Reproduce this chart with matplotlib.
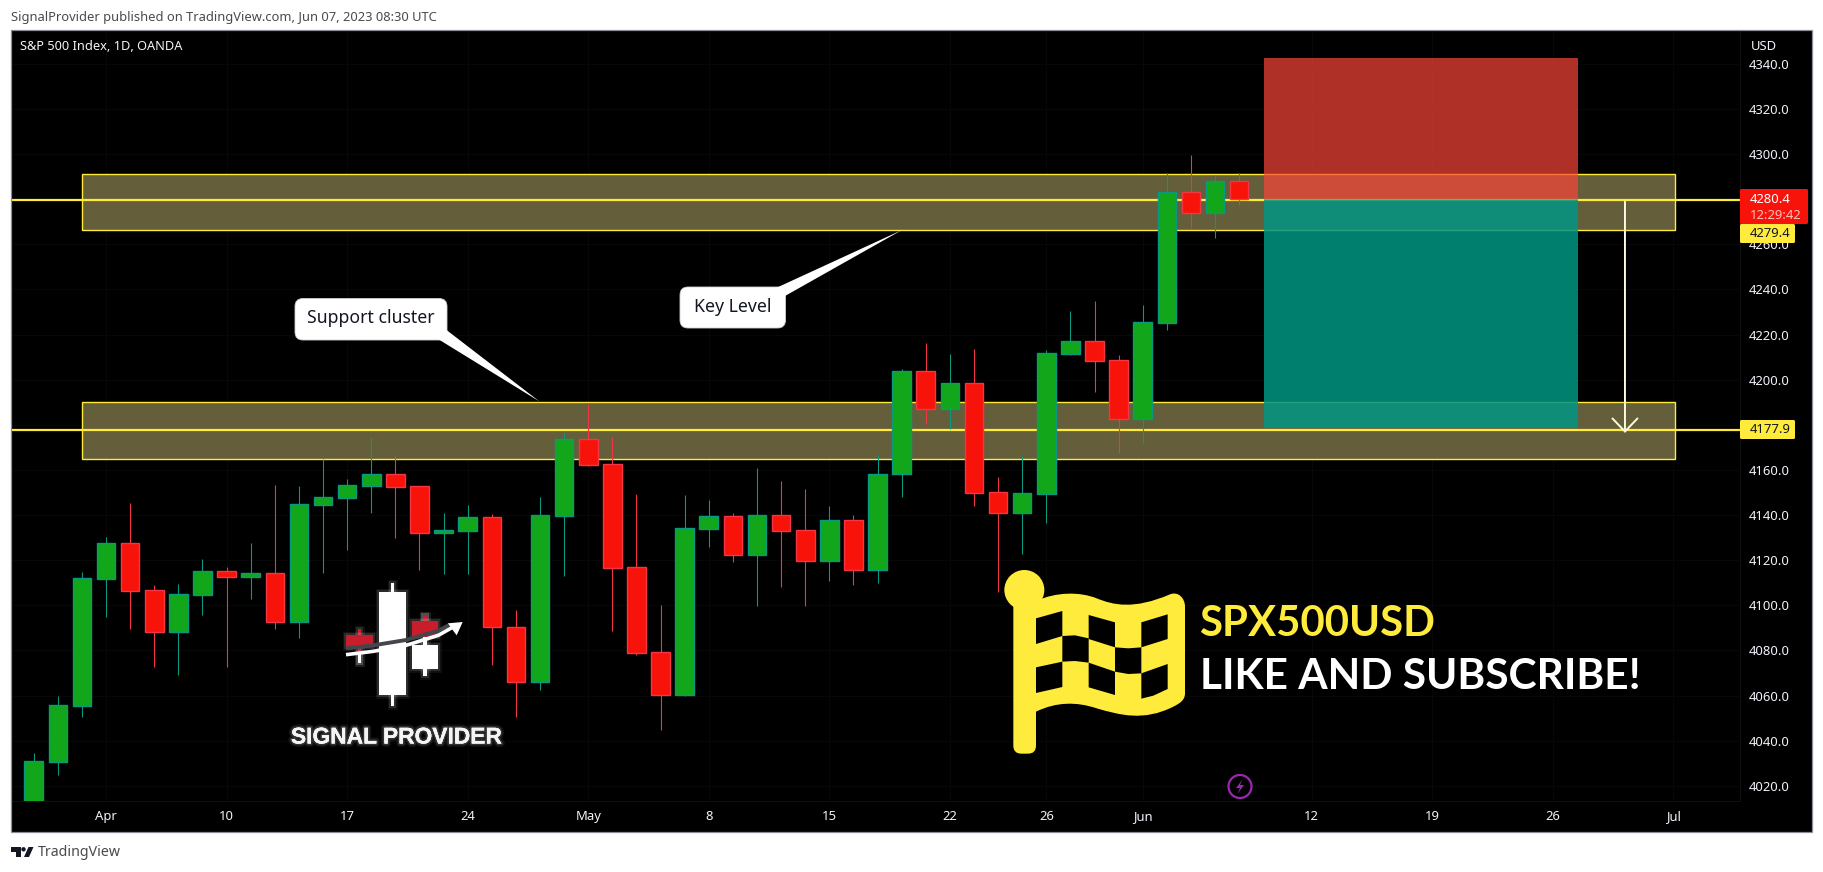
import numpy as np
import pandas as pd
import matplotlib
matplotlib.use('Agg')
import matplotlib.pyplot as plt
import matplotlib.patheffects as pe
from matplotlib.patches import Rectangle, Polygon, Circle, FancyBboxPatch, PathPatch
from matplotlib.path import Path

# daily bars, OANDA SPX500USD
dates = pd.bdate_range('2023-03-29', '2023-07-03')
opens = [4005, 4030.7, 4055.6, 4111.8, 4127.5, 4106.7, 4088.3, 4104.7, 4115.1, 4112.7,
         4114.2, 4092.8, 4144.6, 4147.7, 4153.0, 4158.1, 4152.7, 4132.2, 4133.1, 4139.0,
         4090.6, 4066.2, 4139.7, 4173.6, 4162.5, 4116.9, 4079.2, 4060.4, 4134.0, 4139.5,
         4122.5, 4139.9, 4133.3, 4119.8, 4137.7, 4115.8, 4158.0, 4203.7, 4187.2, 4198.4,
         4150.1, 4141.1, 4149.5, 4211.5, 4217.0, 4208.5, 4182.7, 4225.2, 4283.0, 4273.7, 4287.9]
closes = [4030.9, 4055.7, 4112.0, 4127.5, 4106.5, 4088.3, 4104.9, 4115.1, 4112.7, 4114.2,
          4092.8, 4144.8, 4147.9, 4153.2, 4158.1, 4152.6, 4132.2, 4133.2, 4139.0, 4090.6,
          4066.2, 4139.9, 4173.6, 4162.3, 4116.7, 4079.0, 4060.4, 4134.2, 4139.5, 4122.5,
          4139.9, 4133.1, 4119.8, 4137.7, 4115.8, 4158.0, 4203.7, 4187.2, 4198.4, 4150.0,
          4141.1, 4149.7, 4211.7, 4217.0, 4208.4, 4182.7, 4225.4, 4283.0, 4273.7, 4287.9, 4280.2]
highs = [4034.4, 4059.7, 4114.6, 4130.3, 4145.2, 4109.0, 4109.5, 4120.5, 4116.9, 4127.5,
         4153.3, 4152.9, 4164.9, 4156.0, 4174.6, 4166.2, 4152.9, 4140.8, 4144.3, 4140.5,
         4098.0, 4147.9, 4176.2, 4189.2, 4174.5, 4149.2, 4100.2, 4148.9, 4146.7, 4140.8,
         4160.7, 4155.1, 4151.4, 4143.9, 4139.9, 4166.4, 4204.6, 4216.1, 4211.4, 4213.5,
         4156.8, 4166.1, 4213.0, 4230.4, 4234.8, 4210.8, 4232.9, 4291.4, 4299.5, 4290.7, 4291.4]
lows = [4000, 4024.8, 4050.7, 4095.0, 4089.5, 4072.8, 4069.1, 4095.7, 4072.8, 4102.8,
        4089.5, 4085.5, 4114.3, 4124.5, 4140.9, 4129.9, 4115.7, 4113.9, 4113.9, 4073.6,
        4050.7, 4062.5, 4113.0, 4161.9, 4088.6, 4078.0, 4044.8, 4060.0, 4126.0, 4119.0,
        4099.9, 4108.3, 4099.9, 4111.0, 4109.2, 4110.0, 4148.2, 4180.5, 4178.3, 4144.2,
        4105.7, 4122.9, 4136.7, 4211.0, 4194.7, 4167.6, 4171.5, 4222.0, 4267.3, 4262.7, 4277.4]

tick_days = ['2023-04-03', '2023-04-10', '2023-04-17', '2023-04-24', '2023-05-01', '2023-05-08',
             '2023-05-15', '2023-05-22', '2023-05-26', '2023-06-01', '2023-06-12', '2023-06-19',
             '2023-06-26', '2023-07-03']
tick_text = ['Apr', '10', '17', '24', 'May', '8', '15', '22', '26', 'Jun', '12', '19', '26', 'Jul']
month_text = ['Apr', 'May', 'Jun', 'Jul']
price_ticks = list(range(4020, 4341, 20))

key_zone = (4266.1, 4291.1)
support_zone = (4164.7, 4189.9)
last_price = 4280.4
entry_price = 4279.4
target_price = 4177.9
stop_price = 4342.5

GREEN = '#12a61a'
RED = '#f8130a'
TEAL = '#089981'
WICK_RED = '#f23645'
YELLOW = '#ffeb3b'
BAND = '#645e3a'
TXT = '#f0f3fa'

W, H = 1823, 872
L, R, T, B = 11, 1740, 31, 801
plt.rcParams['font.family'] = ['Noto Sans', 'DejaVu Sans']

fig = plt.figure(figsize=(W / 100, H / 100), dpi=100, facecolor='white')

# black panel behind the chart, pixel coords
bg = fig.add_axes([0, 0, 1, 1], zorder=0)
bg.set_xlim(0, W)
bg.set_ylim(H, 0)
bg.axis('off')
bg.add_patch(Rectangle((L, T - 0.5), 1811.5 - L, 832 - T, fc='black', ec='none'))

ax = fig.add_axes([L / W, 1 - B / H, (R - L) / W, (B - T) / H], zorder=1)
ax.set_facecolor('none')
for s in ax.spines.values():
    s.set_visible(False)
ax.spines['right'].set_visible(True)
ax.spines['right'].set_color('#101010')
ax.spines['bottom'].set_visible(True)
ax.spines['bottom'].set_color('#101010')

x0, step = 33.7, 24.11
ax.set_xlim((L - x0) / step, (R - x0) / step)
ax.set_ylim(4013.3, 4354.5)

n = np.arange(len(opens))
o = np.array(opens)
c = np.array(closes)
up = c >= o
hi = np.array(highs)
lo = np.array(lows)

ax.grid(True, color='#080808', lw=0.7)
ax.set_axisbelow(True)

# zones
def zone(rng):
    ax.add_patch(Rectangle((2, rng[0]), 66.06, rng[1] - rng[0], fc=BAND, ec=YELLOW, lw=1.0, zorder=1))

zone(key_zone)
zone(support_zone)
ax.axhline(entry_price, color=YELLOW, lw=1.6, zorder=1.5)
ax.axhline(target_price, color=YELLOW, lw=1.6, zorder=1.5)

# short position box
ax.add_patch(Rectangle((51.03, entry_price), 13.02, stop_price - entry_price, fc=(249 / 255, 69 / 255, 57 / 255),
                       ec='none', alpha=0.7, zorder=2))
ax.add_patch(Rectangle((51.03, target_price + 0.7), 13.02, entry_price - target_price - 0.7, fc=(0, 150 / 255, 132 / 255),
                       ec='none', alpha=0.85, zorder=2))

# candles
ax.vlines(n[up], lo[up], hi[up], color=TEAL, lw=0.8, zorder=3)
ax.vlines(n[~up], lo[~up], hi[~up], color=WICK_RED, lw=0.8, zorder=3)
ax.bar(n[up], (c - o)[up], bottom=o[up], width=0.77, color=GREEN, edgecolor=TEAL, lw=1.0, zorder=4)
ax.bar(n[~up], (o - c)[~up], bottom=c[~up], width=0.77, color=RED, edgecolor=WICK_RED, lw=1.0, zorder=4)

ax.annotate('', xy=(66, target_price - 1.5), xytext=(66, entry_price - 0.5), zorder=5,
            arrowprops=dict(arrowstyle='->,head_length=0.94,head_width=0.9', mutation_scale=10,
                            color='#fffbe0', lw=1.4, shrinkA=0, shrinkB=0))

# axes labels
ax.yaxis.tick_right()
ax.set_yticks(price_ticks)
ax.set_yticklabels(['%.1f' % p for p in price_ticks], fontsize=9.4, color=TXT)
ax.tick_params(axis='y', length=0, pad=6.5)
ax.set_xticks([dates.get_loc(pd.Timestamp(d)) for d in tick_days])
ax.set_xticklabels(tick_text, fontsize=9.4, color=TXT)
ax.tick_params(axis='x', length=0, pad=6.5)
for lab in ax.get_xticklabels():
    if lab.get_text() in month_text:
        lab.set_fontweight('bold')

# everything drawn on top, pixel coords
ov = fig.add_axes([0, 0, 1, 1], zorder=2)
ov.set_xlim(0, W)
ov.set_ylim(H, 0)
ov.axis('off')
ov.add_patch(Rectangle((L, T - 0.5), 1811.5 - L, 832 - T, fc='none', ec='#8a8d96', lw=0.9))

ov.text(11, 17, 'SignalProvider published on TradingView.com, Jun 07, 2023 08:30 UTC',
        fontsize=9.3, color='#4a4a4a', va='center')
ov.text(20, 47, 'S&P 500 Index, 1D, OANDA', fontsize=9.2, color='#f5f5f5', va='center')
ov.text(1751, 46, 'USD', fontsize=9.4, color=TXT, va='center')

# price tags
def tag(x1, x2, y1, y2, col):
    ov.add_patch(FancyBboxPatch((x1, y1), x2 - x1, y2 - y1, boxstyle='round,pad=0,rounding_size=1.5', fc=col, ec='none'))

tag(1740, 1808, 189, 224, RED)
ov.text(1750, 199, '%.1f' % last_price, fontsize=9.4, color='white', va='center')
ov.text(1750, 215, '12:29:42', fontsize=9.4, color='#ffc0bc', va='center')
tag(1740, 1795, 224, 243, YELLOW)
ov.text(1750, 233.5, '%.1f' % entry_price, fontsize=9.4, color='#131722', va='center')
tag(1740, 1795, 420, 439, YELLOW)
ov.text(1750, 429.5, '%.1f' % target_price, fontsize=9.4, color='#131722', va='center')

# callouts
def callout(x1, y1, x2, y2, tail, label, tx):
    ov.add_patch(FancyBboxPatch((x1, y1), x2 - x1, y2 - y1, boxstyle='round,pad=0,rounding_size=8', fc='white', ec='#d0d0d0', lw=0.6))
    ov.add_patch(Polygon(tail, closed=True, fc='white', ec='none'))
    ov.text(tx, (y1 + y2) / 2 - 1, label, fontsize=12.7, color='#131722', ha='center', va='center')

callout(295, 298.5, 447, 340, [(438, 339), (446.5, 330), (539.5, 401.5)], 'Support cluster', 371)
callout(680, 287, 785.5, 328, [(776, 288), (785, 296), (902, 230)], 'Key Level', 733)

# logo
def lp(px, py):
    return 260 + px / 3, 560 + py / 3

glow = [pe.withStroke(linewidth=5, foreground='white', alpha=0.06),
        pe.withStroke(linewidth=3, foreground='white', alpha=0.12), pe.Normal()]

def lrect(x1, y1, x2, y2, col, g=True):
    a = lp(x1, y1)
    b = lp(x2, y2)
    r = Rectangle(a, b[0] - a[0], b[1] - a[1], fc=col, ec='none')
    ov.add_patch(r)
    if g:
        r.set_path_effects(glow)

lrect(393, 68, 403, 438, 'white')
lrect(358, 95, 438, 406, 'white')
lrect(293, 208, 303, 310, '#c81e2c')
lrect(293, 280, 303, 310, 'white')
lrect(258, 225, 340, 262, '#c81e2c')
lrect(490, 165, 500, 348, 'white')
lrect(490, 165, 500, 190, '#c81e2c')
lrect(455, 255, 535, 327, 'white')
lrect(455, 183, 535, 232, '#c81e2c')
sw = [lp(258, 265), lp(340, 256), lp(438, 240), lp(535, 212), lp(566, 196)]
ov.plot(*zip(*sw), color='#45454d', lw=2.8, solid_capstyle='butt')
sw = [lp(258, 284), lp(340, 274), lp(438, 256), lp(535, 226), lp(590, 195)]
ov.plot(*zip(*sw), color='white', lw=2.6, solid_capstyle='butt')
ov.add_patch(Polygon([lp(608, 186), lp(563, 190), lp(590, 226)], closed=True, fc='white', ec='none'))
ov.text(*lp(408, 531), 'SIGNAL PROVIDER', fontsize=16.4, fontweight='bold', family='Liberation Sans', color='#f5f5f5',
        ha='center', va='center', path_effects=[pe.withStroke(linewidth=5, foreground='white', alpha=0.07),
                                                pe.withStroke(linewidth=2.5, foreground='white', alpha=0.14), pe.Normal()])

# flag
def fp(px, py):
    return 1000 + px / 3, 565 + py / 3

ov.add_patch(FancyBboxPatch(fp(40, 100), 68 / 3, 466 / 3, boxstyle='round,pad=0,rounding_size=8', fc=YELLOW, ec='none'))
ov.add_patch(Circle(fp(73, 75), 20, fc=YELLOW, ec='none'))
v = [(108, 108), (170, 80), (240, 80), (290, 100), (340, 120), (400, 135), (510, 88), (535, 78), (555, 100), (555, 125),
     (555, 385), (555, 405), (540, 415), (520, 425), (430, 470), (360, 450), (290, 430), (230, 410), (170, 410), (108, 440), (108, 108)]
k = [Path.MOVETO] + [Path.CURVE4] * 9 + [Path.LINETO] + [Path.CURVE4] * 9 + [Path.CLOSEPOLY]
ov.add_patch(PathPatch(Path([fp(*p) for p in v], k), fc=YELLOW, ec='none'))
cells = [[(108, 160), (187, 138), (187, 213), (108, 237)],
         [(266, 150), (345, 172), (345, 247), (266, 222)],
         [(424, 172), (503, 148), (503, 222), (424, 247)],
         [(187, 213), (225, 211), (266, 220), (266, 293), (225, 288), (187, 290)],
         [(345, 247), (385, 250), (424, 247), (424, 325), (385, 327), (345, 320)],
         [(108, 307), (187, 290), (187, 366), (108, 384)],
         [(266, 293), (345, 320), (345, 390), (266, 367)],
         [(424, 325), (503, 297), (503, 372), (460, 392), (424, 401)]]
for cell in cells:
    ov.add_patch(Polygon([fp(*p) for p in cell], closed=True, fc='black', ec='none'))

ov.text(1200, 624, 'SPX500USD', fontsize=30.2, fontweight='bold', family='Lato', color=YELLOW, va='center')
ov.text(1200, 677, 'LIKE AND SUBSCRIBE!', fontsize=30.5, fontweight='bold', family='Lato', color='white', va='center')

# bolt marker
ov.add_patch(Circle((1240, 786.5), 11.5, fc='none', ec='#9c27b0', lw=1.6))
ov.add_patch(Polygon([(1242.5, 779.5), (1236, 788), (1240, 788), (1237.5, 794), (1244, 785), (1240, 785)], closed=True, fc='#9c27b0', ec='none'))

# tradingview footer
ov.add_patch(Polygon([(11, 847), (20.5, 847), (20.5, 857), (15.5, 857), (15.5, 851.5), (11, 851.5)], closed=True, fc='#131722', ec='none'))
ov.add_patch(Circle((23.5, 849.3), 2.2, fc='#131722', ec='none'))
ov.add_patch(Polygon([(28.5, 847), (33.5, 847), (29, 857), (24, 857)], closed=True, fc='#131722', ec='none'))
ov.text(38, 852.5, 'TradingView', fontsize=10.2, color='#4a4a4a', va='center')

fig.savefig('out.png', dpi=100, facecolor='white')
